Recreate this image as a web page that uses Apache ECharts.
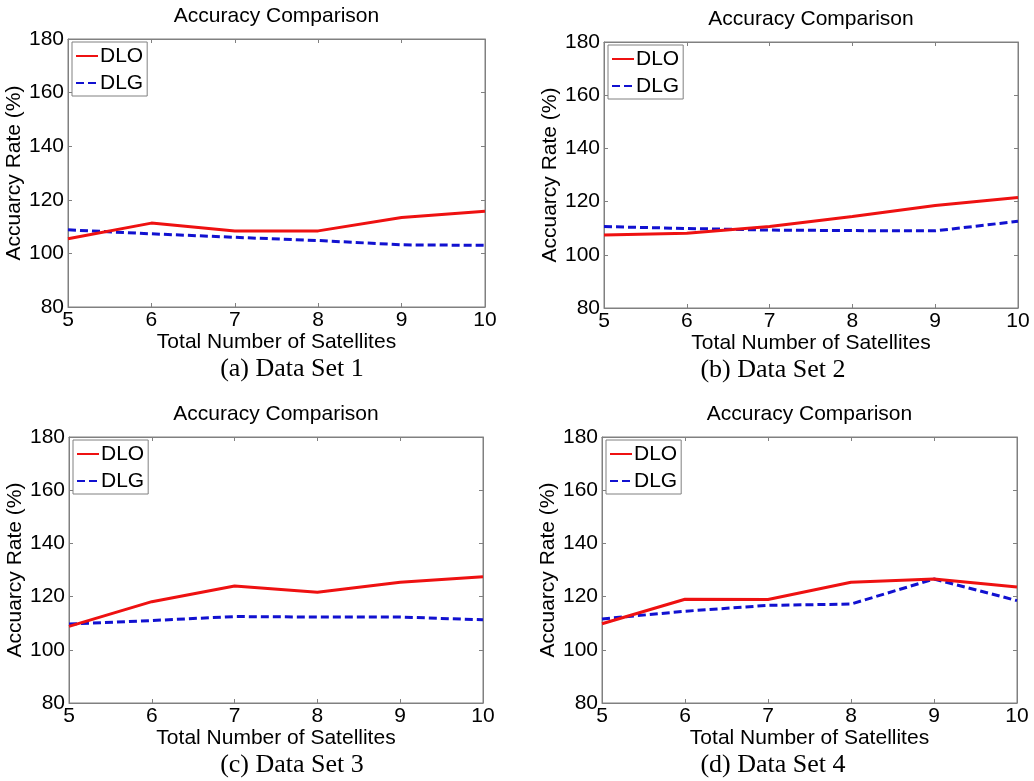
<!DOCTYPE html>
<html>
<head>
<meta charset="utf-8">
<title>Accuracy Comparison</title>
<script src="https://cdn.jsdelivr.net/npm/echarts@6/dist/echarts.min.js"></script>
<style>
  html, body { margin: 0; padding: 0; background: #fff; }
  #main { width: 1034px; height: 781px; }
</style>
</head>
<body>
<div id="main"></div>
<script>
// number of satellites (x axis)
var satellites = [5, 6, 7, 8, 9, 10];
var yTicks = [80, 100, 120, 140, 160, 180];

// accuracy rate (%)
var dloSet1 = [105.5, 111.3, 108.4, 108.4, 113.4, 115.7];
var dlgSet1 = [108.8, 107.3, 106.0, 104.8, 103.2, 103.0];
var dloSet2 = [107.4, 108.1, 110.6, 114.4, 118.5, 121.5];
var dlgSet2 = [110.6, 109.9, 109.3, 109.1, 109.0, 112.6];
var dloSet3 = [108.8, 118.1, 124.0, 121.6, 125.4, 127.5];
var dlgSet3 = [109.7, 111.0, 112.5, 112.3, 112.3, 111.3];
var dloSet4 = [109.8, 119.0, 118.9, 125.4, 126.6, 123.6];
var dlgSet4 = [111.6, 114.5, 116.7, 117.2, 126.6, 118.5];

var captions = ['(a) Data Set 1', '(b) Data Set 2', '(c) Data Set 3', '(d) Data Set 4'];
var dloSets = [dloSet1, dloSet2, dloSet3, dloSet4];
var dlgSets = [dlgSet1, dlgSet2, dlgSet3, dlgSet4];

// plot boxes, measured on the reference
var boxes = [
  { left: 68, top: 39, width: 417, height: 268 },
  { left: 604, top: 42, width: 414, height: 266 },
  { left: 69, top: 437, width: 414, height: 266 },
  { left: 602, top: 437, width: 415, height: 266 }
];
var captionPos = [[292, 369], [773, 370], [292, 765], [773, 765]];

var SANS = "'Liberation Sans', Arial, sans-serif";
var SERIF = "'Liberation Serif', 'Times New Roman', serif";
var GRAY = '#808080';
var RED = '#ee1111';
var BLUE = '#1111d0';

function pairs(xs, ys) {
  return xs.map(function (x, i) { return [x, ys[i]]; });
}

var option = {
  animation: false,
  textStyle: { fontFamily: SANS },
  grid: [],
  xAxis: [],
  yAxis: [],
  legend: [],
  series: [],
  graphic: []
};

boxes.forEach(function (b, k) {
  option.grid.push({
    left: b.left, top: b.top, width: b.width, height: b.height,
    show: true, borderColor: GRAY, borderWidth: 1, backgroundColor: '#fff'
  });

  var xBase = {
    type: 'value', gridIndex: k,
    min: satellites[0], max: satellites[satellites.length - 1], interval: 1,
    splitLine: { show: false },
    axisLine: { show: true, lineStyle: { color: GRAY } },
    axisTick: { show: true, inside: true, length: 4, lineStyle: { color: GRAY } }
  };
  var yBase = {
    type: 'value', gridIndex: k,
    min: yTicks[0], max: yTicks[yTicks.length - 1], interval: 20,
    splitLine: { show: false },
    axisLine: { show: true, lineStyle: { color: GRAY } },
    axisTick: { show: true, inside: true, length: 4, lineStyle: { color: GRAY } }
  };

  option.xAxis.push(Object.assign({}, xBase, {
    position: 'bottom',
    name: 'Total Number of Satellites',
    nameLocation: 'middle', nameGap: 23,
    nameTextStyle: { color: '#000', fontSize: 21, fontFamily: SANS },
    axisLabel: { color: '#000', fontSize: 21, margin: 3, fontFamily: SANS }
  }));
  option.xAxis.push(Object.assign({}, xBase, {
    position: 'top', axisLabel: { show: false }
  }));
  option.yAxis.push(Object.assign({}, yBase, {
    position: 'left',
    name: 'Accuarcy Rate (%)',
    nameLocation: 'middle', nameGap: 41,
    nameTextStyle: { color: '#000', fontSize: 21, fontFamily: SANS },
    axisLabel: { color: '#000', fontSize: 21, margin: 4, fontFamily: SANS }
  }));
  option.yAxis.push(Object.assign({}, yBase, {
    position: 'right', axisLabel: { show: false }
  }));

  option.series.push({
    name: 'DLO', type: 'line',
    xAxisIndex: 2 * k, yAxisIndex: 2 * k,
    data: pairs(satellites, dloSets[k]),
    symbol: 'none',
    lineStyle: { color: RED, width: 3 },
    itemStyle: { color: RED },
    z: 3
  });
  option.series.push({
    name: 'DLG', type: 'line',
    xAxisIndex: 2 * k, yAxisIndex: 2 * k,
    data: pairs(satellites, dlgSets[k]),
    symbol: 'none',
    lineStyle: { color: BLUE, width: 3, type: [8, 4] },
    itemStyle: { color: BLUE },
    z: 2
  });

  option.legend.push({
    orient: 'vertical',
    left: b.left + 4, top: b.top + 3,
    data: ['DLO', 'DLG'],
    selectedMode: false,
    itemWidth: 22, itemHeight: 14, itemGap: 5,
    padding: [3, 4, 2, 3],
    borderColor: GRAY, borderWidth: 1, backgroundColor: '#fff',
    lineStyle: { width: 2 },
    itemStyle: { opacity: 0 },
    textStyle: { color: '#000', fontSize: 21, lineHeight: 22, fontFamily: SANS, padding: [0, 0, 0, -3] },
    z: 10
  });

  option.graphic.push({
    type: 'text',
    x: b.left + b.width / 2, y: b.top - 23,
    style: {
      text: 'Accuracy Comparison',
      fill: '#000', font: '21px ' + SANS,
      align: 'center', verticalAlign: 'middle'
    }
  });
  option.graphic.push({
    type: 'text',
    x: captionPos[k][0], y: captionPos[k][1],
    style: {
      text: captions[k],
      fill: '#000', font: '26px ' + SERIF,
      align: 'center', verticalAlign: 'middle'
    }
  });
});

var chart = echarts.init(document.getElementById('main'), null, { renderer: 'canvas' });
chart.setOption(option);
</script>
</body>
</html>
